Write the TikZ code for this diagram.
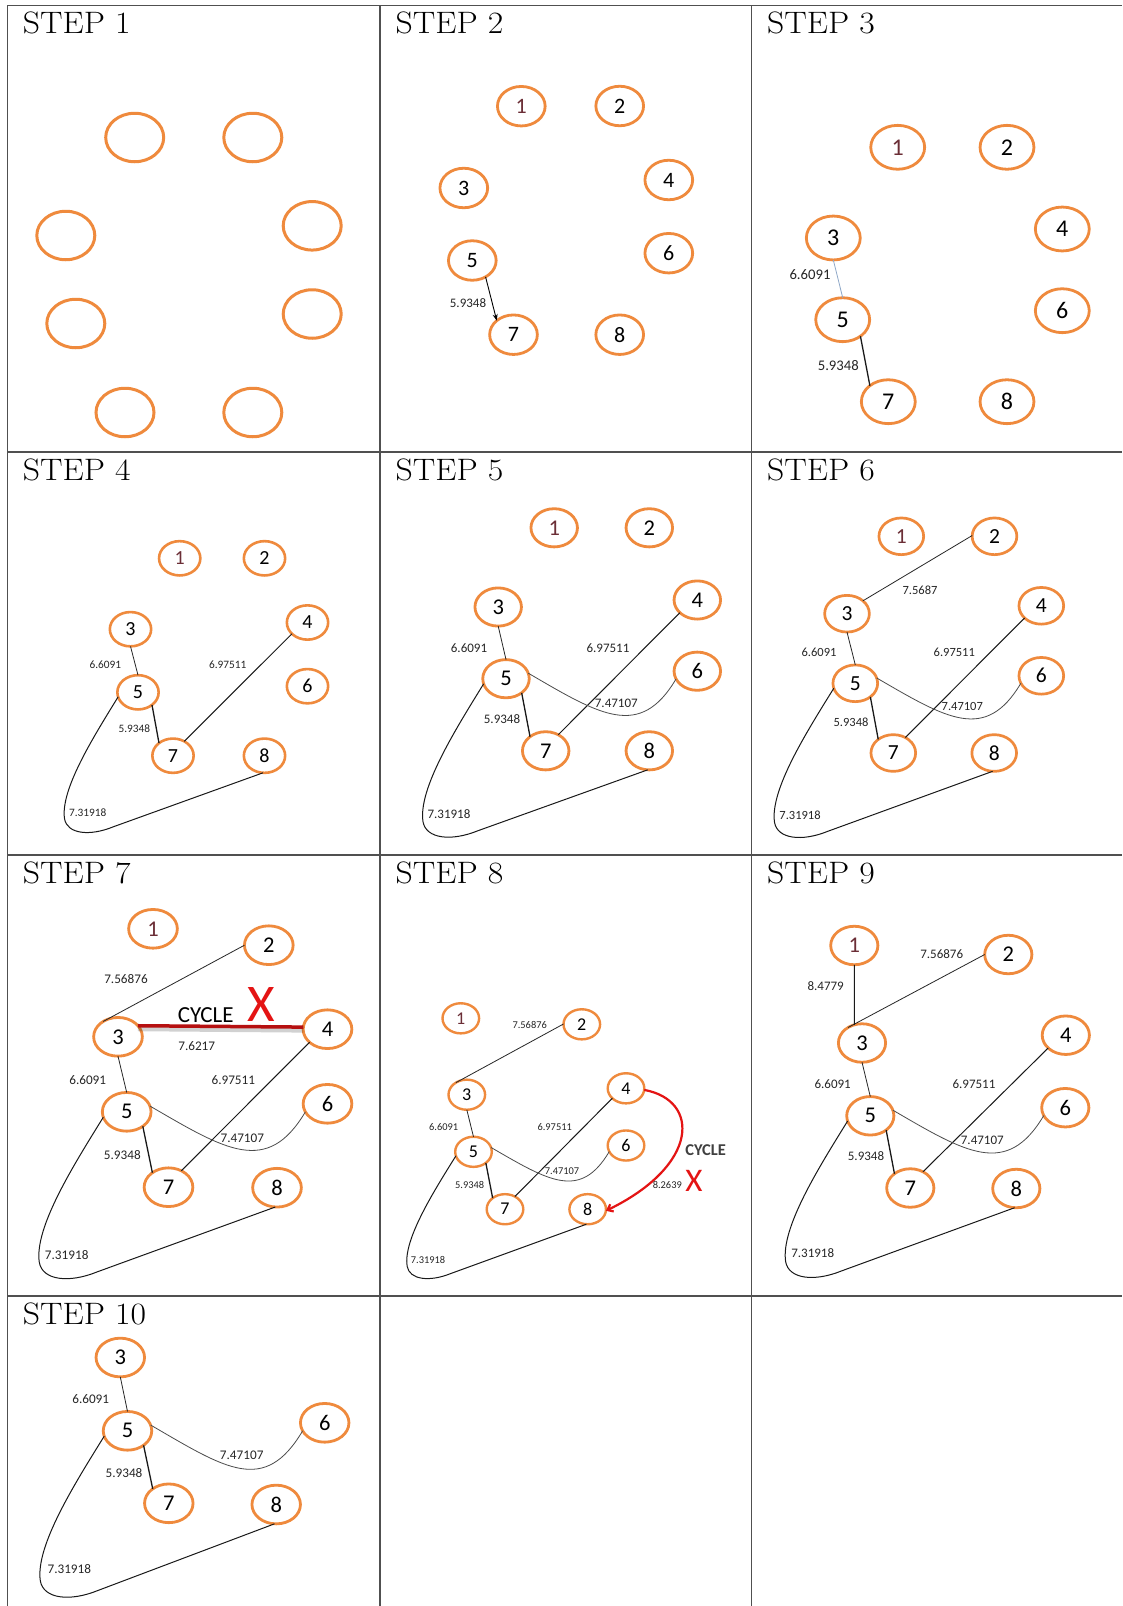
\documentclass[tikz,border=0pt]{standalone}
\usepackage{fontspec}
\usepackage{graphicx}
\newfontfamily\calfont{Carlito}
\usetikzlibrary{shapes.geometric,calc,arrows.meta}
\definecolor{ocol}{HTML}{EF8A3D}
\definecolor{onec}{HTML}{6B2E36}
\definecolor{gridc}{HTML}{505050}
\definecolor{cycred}{HTML}{E41414}
\definecolor{bluegray}{HTML}{8FA8C8}
\newcommand\steptxt[1]{\scalebox{1.087}[1]{#1}}
\tikzset{
  vx/.style={ellipse, draw=ocol, fill=white, inner sep=0pt, outer sep=0pt},
  pan/.style n args={4}{vx, minimum width=#1, minimum height=#2, line width=#3, font=\calfont\fontsize{#4}{#4}\selectfont},
  va/.style={pan={58pt}{48.5pt}{3pt}{20}},
  vb/.style={pan={47.7pt}{39.5pt}{2.8pt}{22}},
  vc/.style={pan={53.9pt}{43.9pt}{2.8pt}{24}},
  vd/.style={pan={41.3pt}{34.3pt}{2.6pt}{20}},
  ve/.style={pan={46.5pt}{38.2pt}{2.8pt}{22.5}},
  vf/.style={pan={44.7pt}{36.7pt}{2.7pt}{21.5}},
  vg/.style={pan={48.7pt}{38.7pt}{2.8pt}{22.5}},
  vh/.style={pan={36.6pt}{30.1pt}{2.4pt}{18}},
  vi/.style={pan={47.2pt}{38.5pt}{2.8pt}{22.5}},
  vj/.style={pan={48.5pt}{38.7pt}{2.8pt}{22.5}},
  onetxt/.style={text=onec},
  lb/.style={font=\calfont\fontsize{#1}{#1}\selectfont, inner sep=0pt, text=black!85},
  st/.style={anchor=base west, font=\fontsize{31}{31}\selectfont, inner sep=0pt},
  gridl/.style={draw=gridc, line width=1.3pt},
  lnthin/.style={draw=black!85, line width=0.8pt},
  lnmid/.style={draw=black!90, line width=1pt},
  lnthick/.style={draw=black!90, line width=1.3pt},
  lnwave/.style={draw=black!70, line width=0.8pt},
}
\newcommand\eTF[1]{\draw[lnthin] (#1-3.south) -- (#1-5.north);}
\newcommand\eFS[1]{\draw[lnthick] (#1-5.-42) -- (#1-7.138);}
\newcommand\eFourS[1]{\draw[lnmid] (#1-4.216) -- (#1-7.52);}
\newcommand\eWave[2]{\draw[lnwave] (#1-5.14) .. controls ($(#1-5)+#2*(94,36.3)$) and ($(#1-6)+#2*(-57.3,68.8)$) .. (#1-6.200);}
\newcommand\eLoop[2]{\draw[lnmid] (#1-5.193) .. controls ($(#1-5)+#2*(-50,50)$) and ($(#1-5)+#2*(-88,110)$) .. ($(#1-5)+#2*(-83,143)$) .. controls ($(#1-5)+#2*(-80,160)$) and ($(#1-5)+#2*(-55,163)$) .. ($(#1-5)+#2*(-28,152)$) -- (#1-8.265);}
\begin{document}
\begin{tikzpicture}[x=1pt,y=-1pt]
\useasboundingbox (0,0) rectangle (1122,1606);
\fill[white] (0,0) rectangle (1122,1606);
% grid
\draw[gridl] (7.3,5.5) -- (1122,5.5);
\draw[gridl] (7.3,452) -- (1122,452);
\draw[gridl] (7.3,855) -- (1122,855);
\draw[gridl] (7.3,1296) -- (1122,1296);
\draw[gridl] (7.3,5.5) -- (7.3,1606);
\draw[gridl] (380,5.5) -- (380,1606);
\draw[gridl] (751.5,5.5) -- (751.5,1606);
% titles
\node[st] (t1) at (22.8,33.5) {\steptxt{STEP 1}};
\node[st] (t2) at (395.5,33.5) {\steptxt{STEP 2}};
\node[st] (t3) at (767,33.5) {\steptxt{STEP 3}};
\node[st] (t4) at (22.8,480) {\steptxt{STEP 4}};
\node[st] (t5) at (395.5,480) {\steptxt{STEP 5}};
\node[st] (t6) at (767,480) {\steptxt{STEP 6}};
\node[st] (t7) at (22.8,883) {\steptxt{STEP 7}};
\node[st] (t8) at (395.5,883) {\steptxt{STEP 8}};
\node[st] (t9) at (767,883) {\steptxt{STEP 9}};
\node[st] (t10) at (22.8,1324) {\steptxt{STEP 10}};
% ---------- STEP 1
\node[va] (a-1) at (134.7,137.5) {};
\node[va] (a-2) at (252.8,137.5) {};
\node[va] (a-3) at (65.8,235.5) {};
\node[va] (a-4) at (312.2,225.8) {};
\node[va] (a-5) at (75.8,323.5) {};
\node[va] (a-6) at (312.2,314) {};
\node[va] (a-7) at (125,412.5) {};
\node[va] (a-8) at (252.8,412.5) {};
% ---------- STEP 2
\node[vb,onetxt] (b-1) at (521.3,106.2) {1};
\node[vb] (b-2) at (619.7,106) {2};
\node[vb] (b-3) at (463.8,188) {3};
\node[vb] (b-4) at (668.8,180) {4};
\node[vb] (b-5) at (472.3,260.5) {5};
\node[vb] (b-6) at (668.8,253.2) {6};
\node[vb] (b-7) at (513.5,334.7) {7};
\node[vb] (b-8) at (619.7,334.7) {8};
\draw[draw=black, line width=0.9pt,-{Stealth[length=6.5pt,width=5pt]}] (b-5.-51) -- (b-7.140);
\node[lb=13] (b-l1) at (468,302.7) {5.9348};
% ---------- STEP 3
\node[vc,onetxt] (c-1) at (897.7,147.3) {1};
\node[vc] (c-2) at (1007,147.3) {2};
\node[vc] (c-3) at (833.3,238) {3};
\node[vc] (c-4) at (1062.3,229) {4};
\node[vc] (c-5) at (842.7,319.7) {5};
\node[vc] (c-6) at (1062.3,310.7) {6};
\node[vc] (c-7) at (888.3,401.7) {7};
\node[vc] (c-8) at (1007,401.7) {8};
\draw[draw=bluegray,line width=0.8pt] (c-3.south) -- (c-5.north);
\draw[lnthick] (c-5.-43) -- (c-7.139);
\node[lb=14.7] (c-l1) at (810,274.3) {6.6091};
\node[lb=14.7] (c-l2) at (838.3,366) {5.9348};
% ---------- STEP 4
\node[vd,onetxt] (d-1) at (179.7,558.3) {1};
\node[vd] (d-2) at (264.5,558.3) {2};
\node[vd] (d-3) at (130.5,629.2) {3};
\node[vd] (d-4) at (307.5,622.5) {4};
\node[vd] (d-5) at (138,692.3) {5};
\node[vd] (d-6) at (307.5,686.2) {6};
\node[vd] (d-7) at (173,755.7) {7};
\node[vd] (d-8) at (264.5,755.7) {8};
\eTF{d}\eFS{d}\eFourS{d}\eLoop{d}{0.885}
\node[lb=11.3] (d-l1) at (105.3,664.3) {6.6091};
\node[lb=11.3] (d-l2) at (134.3,728.3) {5.9348};
\node[lb=11.3] (d-l3) at (227.7,664.3) {6.97511};
\node[lb=11.3] (d-l4) at (87.7,812.7) {7.31918};
% ---------- STEP 5
\node[ve,onetxt] (e-1) at (554.2,527.8) {1};
\node[ve] (e-2) at (649.3,527.8) {2};
\node[ve] (e-3) at (498.2,607) {3};
\node[ve] (e-4) at (697.3,600) {4};
\node[ve] (e-5) at (506,678.7) {5};
\node[ve] (e-6) at (697.3,671.2) {6};
\node[ve] (e-7) at (545.7,750.8) {7};
\node[ve] (e-8) at (649.3,750.8) {8};
\eTF{e}\eFS{e}\eFourS{e}\eWave{e}{1}\eLoop{e}{1}
\node[lb=13] (e-l1) at (469,647.7) {6.6091};
\node[lb=13] (e-l2) at (608,647.7) {6.97511};
\node[lb=13] (e-l3) at (616.3,703.3) {7.47107};
\node[lb=13] (e-l4) at (502,719.3) {5.9348};
\node[lb=13] (e-l5) at (449,814.3) {7.31918};
% ---------- STEP 6
\node[vf,onetxt] (f-1) at (901.3,536.3) {1};
\node[vf] (f-2) at (994.5,536.3) {2};
\node[vf] (f-3) at (847,613.7) {3};
\node[vf] (f-4) at (1041.3,605.8) {4};
\node[vf] (f-5) at (855.3,683.3) {5};
\node[vf] (f-6) at (1041.3,675.8) {6};
\node[vf] (f-7) at (893.3,753) {7};
\node[vf] (f-8) at (994.2,753) {8};
\draw[lnthin] (f-2.178) -- (f-3.39);
\eTF{f}\eFS{f}\eFourS{f}\eWave{f}{0.973}\eLoop{f}{0.973}
\node[lb=12.5] (f-l0) at (920,590.7) {7.5687};
\node[lb=12.5] (f-l1) at (819,652.3) {6.6091};
\node[lb=12.5] (f-l2) at (954.3,652.3) {6.97511};
\node[lb=12.5] (f-l3) at (962.3,706.7) {7.47107};
\node[lb=12.5] (f-l4) at (851,722.7) {5.9348};
\node[lb=12.5] (f-l5) at (800,815.3) {7.31918};
% ---------- STEP 7
\node[vg,onetxt] (g-1) at (153,928.8) {1};
\node[vg] (g-2) at (268.8,945.2) {2};
\node[vg] (g-3) at (118,1036.8) {3};
\node[vg] (g-4) at (327.5,1029.2) {4};
\node[vg] (g-5) at (126.7,1111.8) {5};
\node[vg] (g-6) at (327.5,1103.8) {6};
\node[vg] (g-7) at (168.5,1187.2) {7};
\node[vg] (g-8) at (277,1187.7) {8};
\draw[lnthin] (g-2.180) -- (g-3.134);
\eTF{g}\eFS{g}\eFourS{g}\eWave{g}{1.053}\eLoop{g}{1.053}
\draw[black, opacity=0.18, line width=5pt, transform canvas={yshift=-3pt}] (g-3.29) -- (g-4.175);
\draw[cycred!80!black, line width=3.5pt] (g-3.29) -- (g-4.175);
\node[font=\calfont\fontsize{23}{23}\selectfont, inner sep=0pt] (g-cy) at (205.7,1015.3) {CYCLE};
\node[font=\calfont\fontsize{53}{53}\selectfont, text=cycred, inner sep=0pt] (g-x) at (261.7,1004) {X};
\node[lb=13.2] (g-l0) at (126,979) {7.56876};
\node[lb=13.2] (g-l6) at (196.7,1046.3) {7.6217};
\node[lb=13.2] (g-l1) at (87.7,1079.7) {6.6091};
\node[lb=13.2] (g-l2) at (233.3,1079.7) {6.97511};
\node[lb=13.2] (g-l3) at (242.3,1138) {7.47107};
\node[lb=13.2] (g-l4) at (122.3,1155.3) {5.9348};
\node[lb=13.2] (g-l5) at (66.7,1255.3) {7.31918};
% ---------- STEP 8
\node[vh,onetxt] (h-1) at (460.8,1018.3) {1};
\node[vh] (h-2) at (581.8,1024.3) {2};
\node[vh] (h-3) at (466.8,1094.7) {3};
\node[vh] (h-4) at (626,1088.3) {4};
\node[vh] (h-5) at (473.5,1151.8) {5};
\node[vh] (h-6) at (626,1145.5) {6};
\node[vh] (h-7) at (505,1209.2) {7};
\node[vh] (h-8) at (587.7,1209.2) {8};
\draw[lnthin] (h-2.179) -- (h-3.132);
\eTF{h}\eFS{h}\eFourS{h}\eWave{h}{0.8}\eLoop{h}{0.8}
\draw[cycred, line width=2.2pt, -{Straight Barb[length=5pt,width=8pt]}] (h-4.-5) .. controls (700,1100) and (700,1165) .. (h-8.-5);
\node[font=\calfont\bfseries\fontsize{16.5}{16.5}\selectfont, text=black!75, inner sep=0pt] (h-cy) at (705.7,1149.7) {CYCLE};
\node[font=\calfont\fontsize{33}{33}\selectfont, text=cycred, inner sep=0pt] (h-x) at (694,1181.3) {X};
\node[lb=10.4] (h-l0) at (529.7,1024.7) {7.56876};
\node[lb=10.4] (h-l1) at (443.7,1127) {6.6091};
\node[lb=10.4] (h-l2) at (554.7,1127) {6.97511};
\node[lb=10.4] (h-l3) at (562,1171.3) {7.47107};
\node[lb=10.4] (h-l4) at (469.7,1184.7) {5.9348};
\node[lb=10.4] (h-l5) at (428,1260.3) {7.31918};
\node[lb=10.4] (h-l6) at (667.3,1184.7) {8.2639};
% ---------- STEP 9
\node[vi,onetxt] (i-1) at (854.3,945.5) {1};
\node[vi] (i-2) at (1008.3,954.5) {2};
\node[vi] (i-3) at (862,1043) {3};
\node[vi] (i-4) at (1065.8,1035.2) {4};
\node[vi] (i-5) at (870.3,1115.8) {5};
\node[vi] (i-6) at (1065.3,1107.7) {6};
\node[vi] (i-7) at (910.3,1188) {7};
\node[vi] (i-8) at (1016.3,1188.5) {8};
\draw[lnmid] (i-1.south) -- (i-3.113);
\draw[lnthin] (i-2.180) -- (i-3.132);
\eTF{i}\eFS{i}\eFourS{i}\eWave{i}{1.02}\eLoop{i}{1.02}
\node[lb=13] (i-l0) at (941.7,954) {7.56876};
\node[lb=13] (i-l7) at (825.7,986.3) {8.4779};
\node[lb=13] (i-l1) at (832.7,1083.7) {6.6091};
\node[lb=13] (i-l2) at (974,1083.7) {6.97511};
\node[lb=13] (i-l3) at (982.3,1140.3) {7.47107};
\node[lb=13] (i-l4) at (866,1156.3) {5.9348};
\node[lb=13] (i-l5) at (812.7,1253) {7.31918};
% ---------- STEP 10
\node[vj] (j-3) at (120.3,1357.5) {3};
\node[vj] (j-5) at (127.5,1430.8) {5};
\node[vj] (j-6) at (324.7,1422.8) {6};
\node[vj] (j-7) at (168.8,1503.3) {7};
\node[vj] (j-8) at (276.2,1504.5) {8};
\eTF{j}\eFS{j}\eWave{j}{1.05}\eLoop{j}{1.05}
\node[lb=13.2] (j-l1) at (90.7,1399.3) {6.6091};
\node[lb=13.2] (j-l3) at (241.7,1455.7) {7.47107};
\node[lb=13.2] (j-l4) at (124,1472.7) {5.9348};
\node[lb=13.2] (j-l5) at (69.3,1569.3) {7.31918};
\end{tikzpicture}
\end{document}
